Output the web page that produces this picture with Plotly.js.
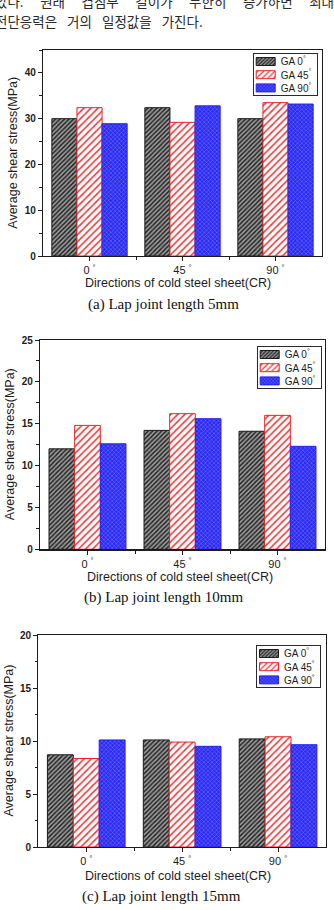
<!DOCTYPE html>
<html>
<head>
<meta charset="utf-8">
<script src="https://cdn.plot.ly/plotly-3.0.1.min.js"></script>
<style>
  html, body { margin: 0; padding: 0; background: #fff; }
  #page { position: relative; width: 334px; height: 910px; overflow: hidden; }
  #chart { position: absolute; left: 0; top: 0; width: 334px; height: 910px; }
  .body-text {
    position: absolute; left: -5px; width: 339px;
    font-family: "Noto Sans CJK KR", sans-serif; font-size: 13.5px;
    line-height: 16px; color: #2a2a2a;
  }
  #line1 { top: -7px; text-align: justify; text-align-last: justify; }
  #line2 { top: 13px; word-spacing: 7px; }
</style>
</head>
<body>
<div id="page">
  <div id="chart"></div>
  <div class="body-text" id="line1">았다. 원래 겹침부 길이가 무한히 증가하면 최대</div>
  <div class="body-text" id="line2">전단응력은 거의 일정값을 가진다.</div>
</div>
<script>
// Directions of the cold-rolled (CR) sheet, one group of bars each
var directions = ['0°', '45°', '90°'];
var directionTicks = ['0 <sup>°</sup>', '45 <sup>°</sup>', '90 <sup>°</sup>'];

// GA sheet orientations (legend entries)
var seriesNames = ['GA 0<sup>°</sup>', 'GA 45<sup>°</sup>', 'GA 90<sup>°</sup>'];

// Average shear stress (MPa), lap joint length 5 mm
var ga0_5mm  = [30.0, 32.4, 30.0];
var ga45_5mm = [32.4, 29.2, 33.5];
var ga90_5mm = [28.9, 32.8, 33.2];

// Average shear stress (MPa), lap joint length 10 mm
var ga0_10mm  = [12.0, 14.2, 14.1];
var ga45_10mm = [14.8, 16.2, 16.0];
var ga90_10mm = [12.6, 15.6, 12.3];

// Average shear stress (MPa), lap joint length 15 mm
var ga0_15mm  = [8.7, 10.1, 10.2];
var ga45_15mm = [8.35, 9.9, 10.4];
var ga90_15mm = [10.1, 9.5, 9.65];

var captions = ['(a) Lap joint length 5mm', '(b) Lap joint length 10mm', '(c) Lap joint length 15mm'];
var yMax = [45, 25, 20];
var yStep = [10, 5, 5];

var W = 334, H = 910;
function px(x) { return x / W; }
function py(y) { return 1 - y / H; }

var SANS = 'Liberation Sans, Arial, sans-serif';
var SERIF = 'Liberation Serif, Times New Roman, serif';
var INK = '#1c1c1c';

// Bar styles for the three GA orientations
var barStyles = [
  { line: '#1a1a1a', pattern: { shape: '/', bgcolor: '#9c9c9c', fgcolor: '#1e1e1e', size: 3.2, solidity: 0.45, fillmode: 'replace' } },
  { line: '#e3262b', pattern: { shape: '/', bgcolor: '#ffffff', fgcolor: '#ee3a3a', size: 5, solidity: 0.32, fillmode: 'replace' } },
  { line: '#2323f2', pattern: { shape: 'x', bgcolor: '#2a2af0', fgcolor: '#8d8dff', size: 3, solidity: 0.25, fillmode: 'replace' } }
];

// Plot frames (pixel boxes) of the three panels
var frames = [
  { left: 43,   right: 322, top: 50,  bottom: 256 },
  { left: 40,   right: 325, top: 340, bottom: 549.3 },
  { left: 38.3, right: 326, top: 635, bottom: 847 }
];
// Legend boxes: left/top edge of the visible frame
var legendBoxes = [
  { left: 252.7, top: 53 },
  { left: 256.7, top: 346 },
  { left: 256,   top: 645 }
];
// Plotly puts legend text 40px right of the legend origin; the visible
// frame starts 12px right of that origin so the text sits 28px inside it.
var LEGEND_INSET = 12;
var yTitleX = [12.7, 9.5, 8.5];
var xTitle = [{ x: 178, y: 282.7 }, { x: 180, y: 577.3 }, { x: 177.5, y: 876 }];
var captionPos = [{ x: 163.5, y: 305 }, { x: 163, y: 597 }, { x: 161, y: 896.7 }];

var panelSeries = [
  [ga0_5mm, ga45_5mm, ga90_5mm],
  [ga0_10mm, ga45_10mm, ga90_10mm],
  [ga0_15mm, ga45_15mm, ga90_15mm]
];

var xIndex = directions.map(function (d, i) { return i; });

var data = [];
var layout = {
  width: W, height: H,
  margin: { l: 0, r: 0, t: 0, b: 0, pad: 0, autoexpand: false },
  paper_bgcolor: '#ffffff', plot_bgcolor: '#ffffff',
  barmode: 'group', bargap: 0.19, bargroupgap: 0,
  showlegend: true,
  annotations: []
};

panelSeries.forEach(function (series, p) {
  var sfx = p === 0 ? '' : String(p + 1);
  var legendId = 'legend' + sfx;
  series.forEach(function (vals, s) {
    data.push({
      type: 'bar',
      name: seriesNames[s],
      x: xIndex,
      y: vals,
      xaxis: 'x' + sfx,
      yaxis: 'y' + sfx,
      legend: legendId,
      marker: {
        color: barStyles[s].pattern.bgcolor,
        pattern: barStyles[s].pattern,
        line: { color: barStyles[s].line, width: 1 }
      },
      hoverinfo: 'skip'
    });
  });

  var f = frames[p];
  layout['xaxis' + sfx] = {
    domain: [px(f.left), px(f.right)],
    anchor: 'y' + sfx,
    range: [-0.5, directions.length - 0.5],
    tickmode: 'array', tickvals: xIndex, ticktext: directionTicks,
    ticks: 'outside', ticklen: 4, tickwidth: 1, tickcolor: INK,
    minor: { tickmode: 'array', tickvals: [0.5, 1.5], ticks: 'outside', ticklen: 3, tickcolor: INK },
    tickfont: { family: SANS, size: 11, color: INK },
    showline: true, mirror: true, linecolor: INK, linewidth: 1.2,
    showgrid: false, zeroline: false, fixedrange: true
  };
  layout['yaxis' + sfx] = {
    domain: [py(f.bottom), py(f.top)],
    anchor: 'x' + sfx,
    range: [0, yMax[p]],
    tickmode: 'linear', tick0: 0, dtick: yStep[p],
    ticks: 'outside', ticklen: 4, tickwidth: 1, tickcolor: INK,
    minor: { dtick: yStep[p] / 2, ticks: 'outside', ticklen: 2.5, tickcolor: INK },
    tickfont: { family: SANS, size: 10, color: INK, weight: 'bold' },
    showline: true, mirror: true, linecolor: INK, linewidth: 1.2,
    showgrid: false, zeroline: false, fixedrange: true
  };
  layout[legendId] = {
    x: px(legendBoxes[p].left - LEGEND_INSET), y: py(legendBoxes[p].top),
    xanchor: 'left', yanchor: 'top',
    bgcolor: 'rgba(0,0,0,0)', bordercolor: 'rgba(0,0,0,0)', borderwidth: 0,
    font: { family: SANS, size: 10, color: INK },
    traceorder: 'normal'
  };

  layout.annotations.push({
    xref: 'paper', yref: 'paper', x: px(yTitleX[p]), y: py((f.top + f.bottom) / 2),
    text: 'Average shear stress(MPa)', textangle: -90, showarrow: false,
    xanchor: 'center', yanchor: 'middle',
    font: { family: SANS, size: 12.5, color: INK }
  });
  layout.annotations.push({
    xref: 'paper', yref: 'paper', x: px(xTitle[p].x), y: py(xTitle[p].y),
    text: 'Directions of cold steel sheet(CR)', showarrow: false,
    xanchor: 'center', yanchor: 'middle',
    font: { family: SANS, size: 12.5, color: INK }
  });
  layout.annotations.push({
    xref: 'paper', yref: 'paper', x: px(captionPos[p].x), y: py(captionPos[p].y),
    text: captions[p], showarrow: false,
    xanchor: 'center', yanchor: 'middle',
    font: { family: SERIF, size: 15, color: '#111111' }
  });
});

// Tighter legend rows, wide flat swatches and a framed box behind them
function compactLegends() {
  var gd = document.getElementById('chart');
  var groups = gd.querySelectorAll('g.infolayer > g');
  groups.forEach(function (box) {
    var cls = box.getAttribute('class') || '';
    if (!/^legend\d*$/.test(cls)) return;
    var items = box.querySelectorAll('g.traces');
    items.forEach(function (item, i) {
      item.setAttribute('transform', 'translate(0,' + (8.5 + i * 13.2) + ')');
      var sw = item.querySelector('.legendpoints path');
      if (sw) {
        sw.setAttribute('d', 'M-9.5,4H9.5V-4H-9.5Z');
        sw.setAttribute('transform', 'translate(' + (LEGEND_INSET + 13) + ',0)');
      }
    });
    var bg = box.querySelector('rect.bg');
    if (bg) {
      bg.setAttribute('x', LEGEND_INSET + 0.5);
      bg.setAttribute('y', 0.5);
      bg.setAttribute('width', 64);
      bg.setAttribute('height', 42);
      bg.style.fill = '#ffffff';
      bg.style.fillOpacity = 1;
      bg.style.stroke = '#2a2a2a';
      bg.style.strokeOpacity = 1;
      bg.style.strokeWidth = '1px';
    }
  });
}

Plotly.newPlot('chart', data, layout, { staticPlot: true, displayModeBar: false })
  .then(function (gd) {
    compactLegends();
    gd.on('plotly_afterplot', compactLegends);
    setTimeout(compactLegends, 30);
    setTimeout(compactLegends, 200);
  });
</script>
</body>
</html>
